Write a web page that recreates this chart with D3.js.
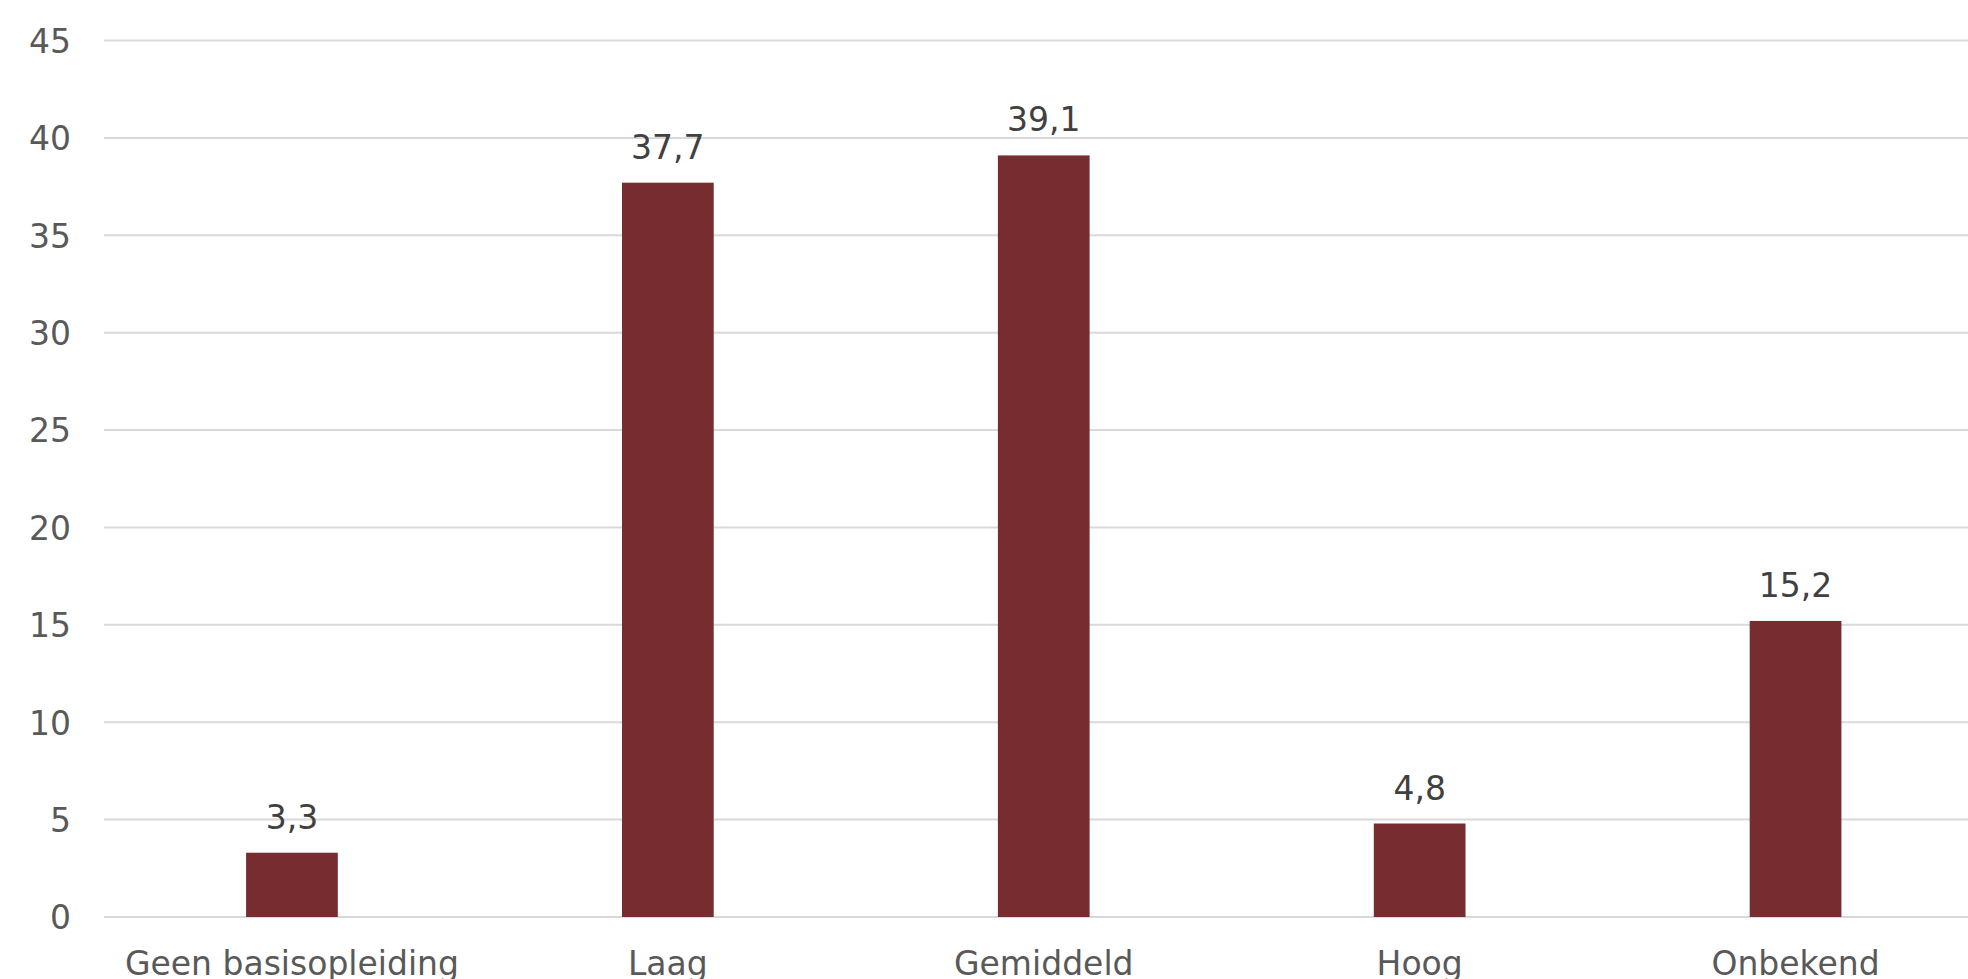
<!DOCTYPE html>
<html>
<head>
<meta charset="utf-8">
<script src="https://cdn.jsdelivr.net/npm/d3@7"></script>
<style>
  html, body { margin: 0; padding: 0; background: #ffffff; }
  svg { display: block; }
  text { font-family: "DejaVu Sans", Verdana, sans-serif; }
</style>
</head>
<body>
<svg id="chart" width="1968" height="979"></svg>
<script>
// Opleidingsniveau: share per category (%)
const categories = ["Geen basisopleiding", "Laag", "Gemiddeld", "Hoog", "Onbekend"];
const values = [3.3, 37.7, 39.1, 4.8, 15.2];
const yTicks = [0, 5, 10, 15, 20, 25, 30, 35, 40, 45];

const svg = d3.select("#chart");

const plot = { left: 104, right: 1983.5, top: 40.5, bottom: 917 };

const x = d3.scaleBand()
  .domain(categories)
  .range([plot.left, plot.right])
  .paddingInner(0.756)
  .paddingOuter(0.378);

const y = d3.scaleLinear()
  .domain([0, 45])
  .range([plot.bottom, plot.top]);

const fmt = v => d3.format(".1f")(v).replace(".", ",");

// Horizontal gridlines
svg.append("g")
  .selectAll("line")
  .data(yTicks)
  .join("line")
  .attr("x1", plot.left)
  .attr("x2", plot.right)
  .attr("y1", d => y(d))
  .attr("y2", d => y(d))
  .attr("stroke", "#d9d9d9")
  .attr("stroke-width", 2);

// Y axis labels
const yAxis = d3.axisLeft(y).tickValues(yTicks).tickSize(0).tickPadding(33);
svg.append("g")
  .attr("transform", `translate(${plot.left},0)`)
  .call(yAxis)
  .call(g => g.select(".domain").remove())
  .call(g => g.selectAll("text")
    .attr("fill", "#595959")
    .attr("font-size", 33)
    .attr("font-family", "DejaVu Sans, Verdana, sans-serif")
    .attr("dy", "0.36em"));

// Bars
svg.append("g")
  .selectAll("rect")
  .data(values)
  .join("rect")
  .attr("x", (d, i) => x(categories[i]))
  .attr("width", x.bandwidth())
  .attr("y", d => y(d))
  .attr("height", d => y(0) - y(d))
  .attr("fill", "#772c2f");

// Value labels
svg.append("g")
  .selectAll("text")
  .data(values)
  .join("text")
  .attr("x", (d, i) => x(categories[i]) + x.bandwidth() / 2)
  .attr("y", d => y(d) - 24)
  .attr("text-anchor", "middle")
  .attr("font-size", 33)
  .attr("fill", "#404040")
  .text(d => fmt(d));

// Category labels
const xAxis = d3.axisBottom(x).tickSize(0).tickPadding(0);
svg.append("g")
  .attr("transform", `translate(0,${plot.bottom})`)
  .call(xAxis)
  .call(g => g.select(".domain").remove())
  .call(g => g.selectAll("text")
    .attr("fill", "#595959")
    .attr("font-size", 33)
    .attr("font-family", "DejaVu Sans, Verdana, sans-serif")
    .attr("dy", null)
    .attr("y", 58));
</script>
</body>
</html>
